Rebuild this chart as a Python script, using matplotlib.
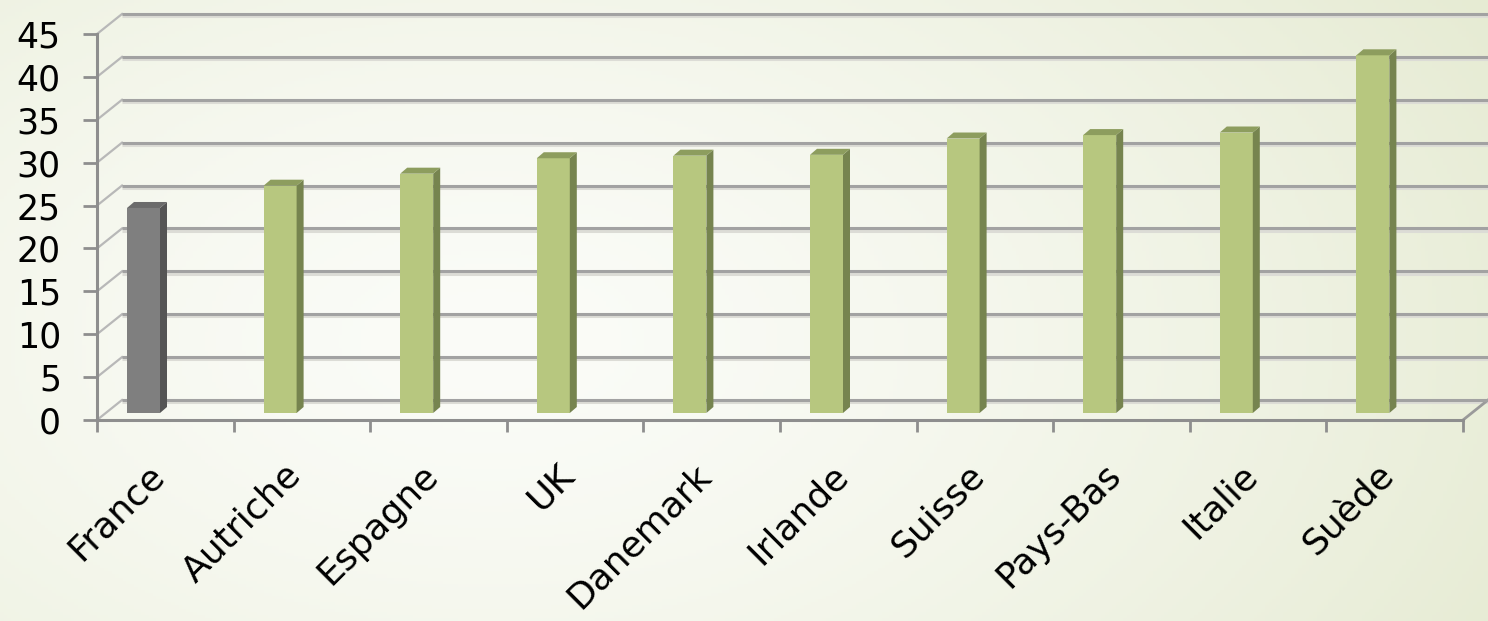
import numpy as np
import matplotlib
matplotlib.use("Agg")
import matplotlib.pyplot as plt
from matplotlib.patches import Polygon
from matplotlib.colors import to_rgb

# ---------------- data ----------------
categories = ["France", "Autriche", "Espagne", "UK", "Danemark", "Irlande",
              "Suisse", "Pays-Bas", "Italie", "Suède"]
values = [23.9, 26.5, 27.9, 29.7, 30.0, 30.1, 32.0, 32.4, 32.7, 41.7]
y_ticks = [0, 5, 10, 15, 20, 25, 30, 35, 40, 45]
highlight = "France"

# ---------------- figure ----------------
W, H, DPI = 1488, 621, 100
fig = plt.figure(figsize=(W / DPI, H / DPI), dpi=DPI)
plt.rcParams['font.family'] = ['DejaVu Sans']

# background gradient
bg = fig.add_axes([0, 0, 1, 1], zorder=-10)
yy, xx = np.mgrid[0:1:200j, 0:1:400j]
d = np.sqrt((xx - 0.33) ** 2 + ((yy - 0.55) * 0.7) ** 2)
d = d / d.max()
c0 = np.array(to_rgb('#fbfcf8'))
c1 = np.array(to_rgb('#e6ebd3'))
img = c0 + (c1 - c0) * (np.clip(d, 0, 1) ** 1.4)[..., None]
bg.imshow(img, extent=[0, 1, 0, 1], aspect='auto', origin='upper')
bg.axis('off')

# main axes: front plane of the 3D box
x0_px, x1_px, y0_px, y45_px = 97, 1463, 420, 34
ax = fig.add_axes([x0_px / W, 1 - y0_px / H, (x1_px - x0_px) / W, (y0_px - y45_px) / H])
n = len(categories)
ax.set_xlim(0, n)
ax.set_ylim(0, y_ticks[-1])
ax.patch.set_alpha(0)

px_x = (x1_px - x0_px) / n          # pixels per category
px_y = (y0_px - y45_px) / y_ticks[-1]  # pixels per value unit

# wall depth offset
DX = 25 / px_x
DY = 20 / px_y

grid_c = '#a2a2a2'
for v in y_ticks:
    ax.plot([DX, n + DX], [v + DY - 2.2 / px_y] * 2, color='#dcdcd6', lw=2.2,
            clip_on=False, zorder=1, solid_capstyle='butt')
    ax.plot([DX, n + DX], [v + DY] * 2, color=grid_c, lw=2.2,
            clip_on=False, zorder=1.5, solid_capstyle='butt')
    ax.plot([0, DX], [v, v + DY], color='#b8b8b8', lw=1.6,
            clip_on=False, zorder=1)
ax.plot([n, n + DX], [0, DY], color='#9a9a9a', lw=2, clip_on=False, zorder=1)

# bars
BASE = 7 / px_y
BL = 30 / px_x
BW = 33 / px_x
BDX = 7 / px_x
BDY = 6 / px_y
pos = np.arange(n)
front_cols = ['#7f7f7f' if c == highlight else '#b7c77f' for c in categories]
side_cols = ['#555555' if c == highlight else '#76844f' for c in categories]
top_cols = ['#6b6b6b' if c == highlight else '#8d9d5e' for c in categories]

ax.bar(pos + BL, values, width=BW, bottom=BASE, align='edge',
       color=front_cols, linewidth=0, zorder=3)
for i, v in enumerate(values):
    l = pos[i] + BL
    r = l + BW
    t = BASE + v
    side = Polygon([(r, BASE), (r + BDX, BASE + BDY), (r + BDX, t + BDY), (r, t)],
                   closed=True, facecolor=side_cols[i], edgecolor='none', zorder=3)
    top = Polygon([(l, t), (l + BDX, t + BDY), (r + BDX, t + BDY), (r, t)],
                  closed=True, facecolor=top_cols[i], edgecolor='none', zorder=3)
    ax.add_patch(side)
    ax.add_patch(top)

# axes / ticks
for s in ['top', 'right']:
    ax.spines[s].set_visible(False)
for s in ['left', 'bottom']:
    ax.spines[s].set_color('#8e8e8e')
    ax.spines[s].set_linewidth(2.2)
    ax.spines[s].set_zorder(4)

ax.set_yticks(y_ticks)
ax.set_yticklabels([str(t) for t in y_ticks])
ax.tick_params(axis='y', direction='out', length=10, width=2, color='#8e8e8e',
               pad=16, labelsize=25, labelcolor='black')

ax.set_xticks(np.arange(n + 1))
ax.set_xticklabels([])
ax.tick_params(axis='x', which='major', direction='out', length=8.6, width=2,
               color='#8e8e8e')
ax.set_xticks(pos + 0.5 + 6 / px_x, minor=True)
ax.set_xticklabels(categories, minor=True)
ax.tick_params(axis='x', which='minor', length=0, pad=27, labelsize=26,
               labelcolor='black')
for lab in ax.get_xticklabels(minor=True):
    lab.set_rotation(45)
    lab.set_ha('right')

fig.savefig('out.png', dpi=DPI)
